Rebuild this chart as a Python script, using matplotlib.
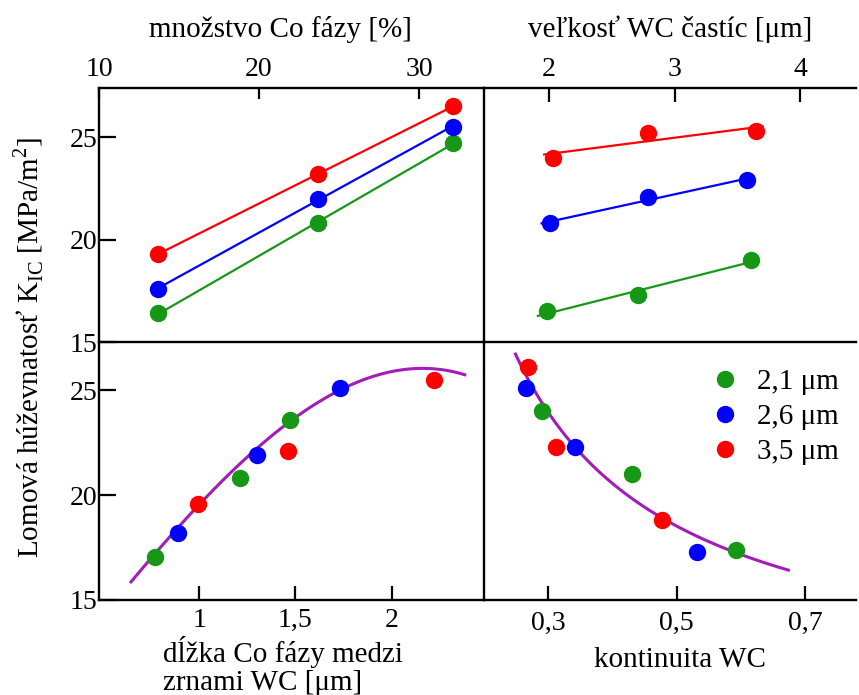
import matplotlib.pyplot as plt
import numpy as np

plt.rcParams['font.family'] = ['Liberation Serif', 'DejaVu Serif']
plt.rcParams['mathtext.fontset'] = 'custom'
plt.rcParams['mathtext.rm'] = 'Liberation Serif'

# data
groups = ["2,1 μm", "2,6 μm", "3,5 μm"]
colors = ["#169816", "#0000ff", "#ff0000"]

co_amount = [13.7, 23.7, 32.1]
kic_co_green = [16.4, 20.8, 24.7]
kic_co_blue = [17.6, 22.0, 25.5]
kic_co_red = [19.3, 23.2, 26.5]

wc_size_green = [1.98, 2.71, 3.61]
kic_wc_green = [16.5, 17.3, 19.0]
wc_size_blue = [2.01, 2.79, 3.58]
kic_wc_blue = [20.8, 22.1, 22.9]
wc_size_red = [2.03, 2.79, 3.65]
kic_wc_red = [24.0, 25.2, 25.3]

co_len_green = [0.77, 1.21, 1.47]
kic_len_green = [17.05, 20.8, 23.6]
co_len_blue = [0.89, 1.30, 1.73]
kic_len_blue = [18.2, 21.9, 25.1]
co_len_red = [0.995, 1.46, 2.22]
kic_len_red = [19.6, 22.1, 25.5]
# trend curve
curve_len_x = [0.646, 1.0, 1.49, 2.0, 2.18, 2.38]
curve_len_y = [15.85, 19.58, 23.6, 25.85, 26.13, 25.7]

cont_green = [0.29, 0.43, 0.592]
kic_cont_green = [24.0, 21.0, 17.4]
cont_blue = [0.266, 0.342, 0.532]
kic_cont_blue = [25.1, 22.3, 17.3]
cont_red = [0.269, 0.312, 0.478]
kic_cont_red = [26.1, 22.3, 18.8]
curve_cont_x = [0.249, 0.291, 0.342, 0.428, 0.480, 0.594, 0.674]
curve_cont_y = [26.9, 24.0, 22.3, 20.2, 18.8, 17.4, 16.2]

fig = plt.figure(figsize=(8.59, 6.95), dpi=100)
L, M, R = 0.1153, 0.5634, 0.997
B, H, T = 0.1367, 0.5079, 0.8734
ax_tl = fig.add_axes([L, H, M - L, T - H])
ax_tr = fig.add_axes([M, H, R - M, T - H])
ax_bl = fig.add_axes([L, B, M - L, H - B])
ax_br = fig.add_axes([M, B, R - M, H - B])

ms = 11.5
fs = 21
tfs = 20
purple = '#a21db8'

for ax in [ax_tl, ax_tr, ax_bl, ax_br]:
    for s in ax.spines.values():
        s.set_linewidth(1.7)
    ax.tick_params(direction='in', width=1.6, labelsize=tfs, pad=4)
    ax.patch.set_alpha(0)

# top left: Co amount
ax_tl.set_xlim(10, 34.06)
ax_tl.set_ylim(15, 27.4)
for ys, c in zip([kic_co_green, kic_co_blue, kic_co_red], colors):
    k = np.polyfit(co_amount, ys, 1)
    xx = np.array([co_amount[0], co_amount[-1]])
    ax_tl.plot(xx, np.polyval(k, xx), color=c, lw=1.6)
    ax_tl.plot(co_amount, ys, 'o', color=c, ms=ms)
ax_tl.xaxis.tick_top()
ax_tl.set_xticks([10, 20, 30])
ax_tl.set_xticklabels(["10", "20", "30"])
ax_tl.set_yticks([15, 20, 25])
ax_tl.tick_params(axis='x', length=8)
ax_tl.tick_params(axis='y', length=12, pad=1)
ax_tl.spines['right'].set_visible(False)
ax_tl.spines['bottom'].set_visible(False)

# top right: WC size
ax_tr.set_xlim(1.48, 4.45)
ax_tr.set_ylim(15, 27.4)
for xs, ys, c in zip([wc_size_green, wc_size_blue, wc_size_red],
                     [kic_wc_green, kic_wc_blue, kic_wc_red], colors):
    k = np.polyfit(xs, ys, 1)
    xx = np.array([xs[0] - 0.07, xs[-1] + 0.05])
    ax_tr.plot(xx, np.polyval(k, xx), color=c, lw=1.6)
    ax_tr.plot(xs, ys, 'o', color=c, ms=ms)
ax_tr.xaxis.tick_top()
ax_tr.set_xticks([2, 3, 4])
ax_tr.set_xticklabels(["2", "3", "4"])
ax_tr.set_yticks([])
ax_tr.tick_params(axis='x', length=10)
ax_tr.spines['right'].set_visible(False)
ax_tr.spines['bottom'].set_visible(False)

# bottom left: Co length
ax_bl.set_xlim(0.48, 2.48)
ax_bl.set_ylim(15, 27.3)
k = np.polyfit(curve_len_x, curve_len_y, 3)
xx = np.linspace(curve_len_x[0], curve_len_x[-1], 100)
ax_bl.plot(xx, np.polyval(k, xx), color=purple, lw=2.2)
for xs, ys, c in zip([co_len_green, co_len_blue, co_len_red],
                     [kic_len_green, kic_len_blue, kic_len_red], colors):
    ax_bl.plot(xs, ys, 'o', color=c, ms=ms)
ax_bl.set_xticks([1, 1.5, 2])
ax_bl.set_xticklabels(["1", "1,5", "2"])
ax_bl.set_yticks([15, 20, 25])
ax_bl.tick_params(axis='x', length=10, pad=6)
ax_bl.tick_params(axis='y', length=12, pad=1)
ax_bl.spines['right'].set_visible(False)

# bottom right: WC contiguity (hyperbolic trend, y against 1/x)
ax_br.set_xlim(0.2, 0.78)
ax_br.set_ylim(15, 27.3)
k = np.polyfit(1 / np.array(curve_cont_x), curve_cont_y, 1)
xx = np.linspace(curve_cont_x[0], curve_cont_x[-1], 100)
ax_br.plot(xx, np.polyval(k, 1 / xx), color=purple, lw=2.2)
for xs, ys, c, g in zip([cont_green, cont_blue, cont_red],
                        [kic_cont_green, kic_cont_blue, kic_cont_red], colors, groups):
    ax_br.plot(xs, ys, 'o', color=c, ms=ms, label=g)
ax_br.set_xticks([0.3, 0.5, 0.7])
ax_br.set_xticklabels(["0,3", "0,5", "0,7"])
ax_br.set_yticks([])
ax_br.tick_params(axis='x', length=10, pad=8)
ax_br.spines['right'].set_visible(False)
ax_br.legend(loc='upper right', frameon=False, fontsize=fs, handletextpad=0.5,
             labelspacing=0.3, borderaxespad=0.2, handlelength=1.2,
             bbox_to_anchor=(1.0, 0.965))

fig.text(0.326, 0.958, "množstvo Co fázy [%]", fontsize=fs, ha='center', va='center')
fig.text(0.78, 0.958, "veľkosť WC častíc [μm]", fontsize=fs, ha='center', va='center')
fig.text(0.19, 0.042, "dĺžka Co fázy medzi\nzrnami WC [μm]", fontsize=fs,
         ha='left', va='center', linespacing=1.08)
fig.text(0.792, 0.05, "kontinuita WC", fontsize=fs, ha='center', va='center')
fig.text(0.033, 0.5, "Lomová húževnatosť K$_{\\mathrm{IC}}$ [MPa/m$^2$]", fontsize=fs,
         rotation=90, ha='center', va='center')

fig.savefig("out.png", dpi=100)
